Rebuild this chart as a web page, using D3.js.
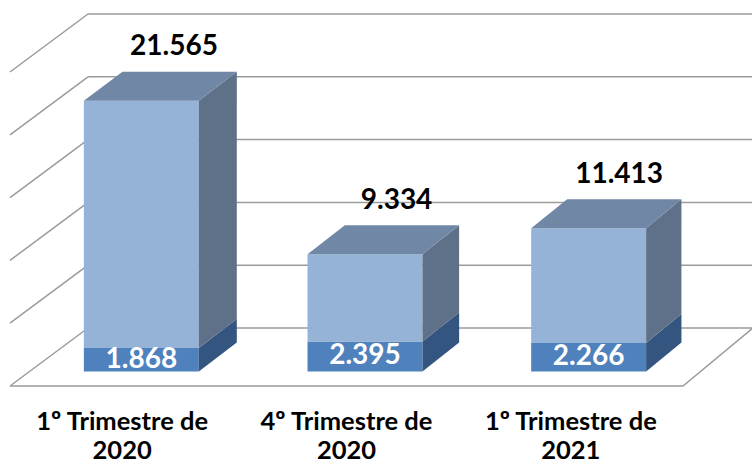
<!DOCTYPE html>
<html>
<head>
<meta charset="utf-8">
<script src="https://cdn.jsdelivr.net/npm/d3@7"></script>
<style>
  html, body { margin: 0; padding: 0; background: #fff; }
  svg { display: block; }
  text { font-family: Lato, "Open Sans", sans-serif; font-weight: bold; }
</style>
</head>
<body>
<svg id="chart" width="752" height="465"></svg>
<script>
// ---- data ----
const categories = ["1º Trimestre de 2020", "4º Trimestre de 2020", "1º Trimestre de 2021"];
const baseSeries = [1868, 2395, 2266];     // lower (darker) segment
const upperSeries = [19697, 6939, 9147];   // upper (lighter) segment
const yTicks = [0, 5000, 10000, 15000, 20000, 25000];

// ---- layout ----
const originX = 10, originY = 386;   // front-left floor corner
const depthDX = 78, depthDY = 58;     // offset of back wall
const shrink = 0.012;                  // mild perspective
const floorW = 673;

const svg = d3.select("#chart");
const fmt = d3.formatLocale({decimal: ",", thousands: ".", grouping: [3], currency: ["", ""]}).format(",d");

const x = d3.scaleBand().domain(categories).range([0, floorW]).paddingInner(0.486).paddingOuter(0.243);
const y = d3.scaleLinear().domain([0, 25000]).range([0, 314]);

function P(xv, f, v) {
  return [originX + xv * (1 - shrink * f) + depthDX * f, originY - depthDY * f - y(v)];
}
const line = d3.line();

// ---- walls & floor gridlines ----
const grid = svg.append("g").attr("fill", "none").attr("stroke", "#9b9b9b").attr("stroke-width", 1.5);
yTicks.forEach(t => {
  grid.append("path").attr("d", line([P(0, 1, t), P(floorW, 1, t)]));
  grid.append("path").attr("d", line([P(0, 0, t), P(0, 1, t)]));
});
grid.append("path").attr("d", line([P(0, 0, 0), P(floorW, 0, 0), P(floorW, 1, 0)]));

// ---- bars ----
const f0 = 0.25, f1 = 0.75;
const colors = {
  base: {front: "#4f81bd", side: "#34557f", top: "#3e6596"},
  upper: {front: "#95b3d7", side: "#5f7089", top: "#7087a5"}
};

function box(g, x0, x1, v0, v1, c, drawTop) {
  g.append("path").attr("fill", c.front)
    .attr("d", line([P(x0, f0, v0), P(x1, f0, v0), P(x1, f0, v1), P(x0, f0, v1)]) + "Z");
  g.append("path").attr("fill", c.side)
    .attr("d", line([P(x1, f0, v0), P(x1, f1, v0), P(x1, f1, v1), P(x1, f0, v1)]) + "Z");
  if (drawTop) {
    g.append("path").attr("fill", c.top)
      .attr("d", line([P(x0, f0, v1), P(x1, f0, v1), P(x1, f1, v1), P(x0, f1, v1)]) + "Z");
  }
}

const bars = svg.append("g");
categories.forEach((cat, i) => {
  const x0 = x(cat), x1 = x(cat) + x.bandwidth();
  const b = baseSeries[i], u = upperSeries[i];
  const g = bars.append("g");
  box(g, x0, x1, 0, b, colors.base, false);
  box(g, x0, x1, b, b + u, colors.upper, true);
});

// ---- labels ----
const labels = svg.append("g");
categories.forEach((cat, i) => {
  const xc = x(cat) + x.bandwidth() / 2;
  const b = baseSeries[i], total = baseSeries[i] + upperSeries[i];
  const pb = P(xc, f0, b / 2);
  labels.append("text").attr("x", pb[0]).attr("y", pb[1] + 8)
    .attr("text-anchor", "middle").attr("font-size", 28).attr("fill", "#fff")
    .text(fmt(b));
  const pt = P(xc, f1 - 0.1, total);
  labels.append("text").attr("x", pt[0] + 2).attr("y", pt[1] - 22)
    .attr("text-anchor", "middle").attr("font-size", 28).attr("fill", "#000")
    .text(fmt(total));
});

// ---- category axis labels ----
const axisG = svg.append("g");
categories.forEach(cat => {
  const xc = originX + x(cat) + x.bandwidth() / 2;
  const idx = cat.lastIndexOf(" ");
  const lines = [cat.slice(0, idx), cat.slice(idx + 1)];
  const t = axisG.append("text").attr("text-anchor", "middle").attr("font-size", 25.5).attr("fill", "#000");
  lines.forEach((ln, k) => {
    t.append("tspan").attr("x", xc).attr("y", 430 + k * 29).text(ln);
  });
});
</script>
</body>
</html>
